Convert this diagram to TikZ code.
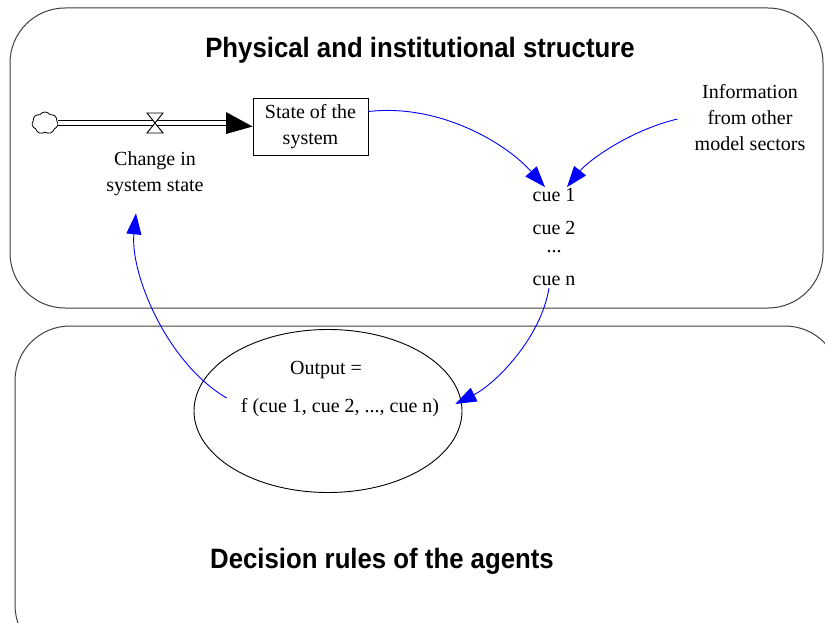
\documentclass[tikz,border=0pt]{standalone}
\usepackage{fontspec}
\setmainfont{Liberation Serif}
\newfontfamily\titlefont[FakeStretch=0.92]{Liberation Sans}
\usetikzlibrary{arrows.meta,shapes.geometric,shapes.symbols}
\begin{document}
\begin{tikzpicture}[x=1pt,y=-1pt,
  txt/.style={font=\fontsize{20}{26}\selectfont,align=center,inner sep=2pt},
  ttl/.style={font=\titlefont\bfseries\fontsize{28}{32}\selectfont,inner sep=0pt},
  link/.style={blue,line width=0.9pt,-{Triangle[length=21pt,width=15pt]}},
  panel/.style={draw=black!75,line width=1pt,rounded corners=55pt}]
\useasboundingbox (0,0) rectangle (825,623);
\clip (0,0) rectangle (825,623);
\fill[white] (0,0) rectangle (825,623);
% panels
\draw[panel] (10,8) rectangle (823,308);
\draw[panel] (15,326) rectangle (840,660);
\node[ttl] (title1) at (420,50) {Physical and institutional structure};
\node[ttl] (title2) at (382,561) {Decision rules of the agents};
% stock and flow
\node[draw,line width=0.9pt,minimum width=115pt,minimum height=57pt,txt] (stock) at (310.5,126.5) {State of the\\system};
\node[cloud,cloud puffs=7,cloud puff arc=110,aspect=1.2,draw,line width=0.8pt,fill=white,minimum width=26pt,minimum height=22pt,inner sep=0pt] (cloud) at (45,123) {};
\coordinate (pipeend) at (226,123);
\draw[double distance=4pt,line width=1pt] (cloud.east |- pipeend) -- (pipeend);
\fill (226,112) -- (stock.west) -- (226,134) -- cycle;
\coordinate (valve) at (155,123);
\draw[line width=0.9pt,fill=white] (147,113) -- (163,113) -- (valve) -- cycle;
\draw[line width=0.9pt,fill=white] (147,133) -- (163,133) -- (valve) -- cycle;
\node[txt] (change) at (155,174) {Change in\\system state};
% information and cues
\node[txt] (info) at (750,118) {Information\\from other\\model sectors};
\node[txt] (cue1) at (554,195) {cue 1};
\node[txt] (cue2) at (554,228) {cue 2};
\node[txt] (dots) at (554,252) {...};
\node[txt] (cuen) at (554,281) {cue n};
% decision ellipse
\node[ellipse,draw,line width=0.9pt,minimum width=268pt,minimum height=163pt] (rule) at (328,411) {};
\node[txt] (out1) at (326,370) {Output =};
\node[txt] (out2) at (340,408) {f (cue 1, cue 2, ..., cue n)};
% links
\draw[link] ([yshift=15pt]stock.east) .. controls +(70,-8) and +(-40,-45) .. ([xshift=-9pt,yshift=-1pt]cue1.north);
\draw[link] ([shift={(-15,1)}]info.west) .. controls +(-50,12) and +(20,-25) .. ([xshift=13pt,yshift=-1pt]cue1.north);
\draw[link] ([xshift=-5pt]cuen.south) .. controls +(-8,50) and +(40,-20) .. ([shift={(14,-4)}]out2.east);
\draw[link] ([shift={(-12,-10)}]out2.west) .. controls +(-60,-35) and +(-6,60) .. ([shift={(-19,15)}]change.south);
\end{tikzpicture}
\end{document}
